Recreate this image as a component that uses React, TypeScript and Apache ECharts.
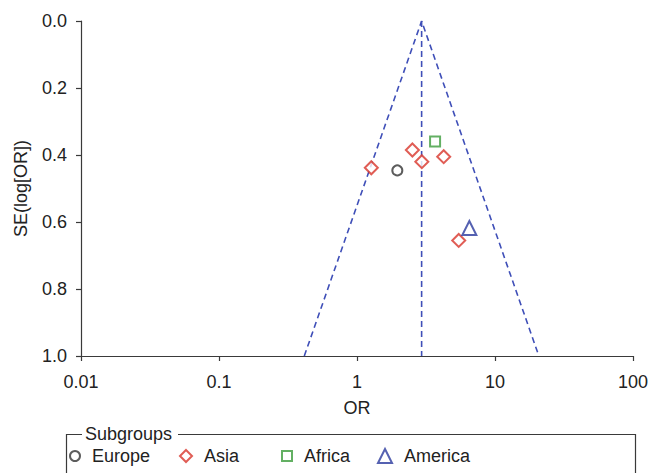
import React, { useEffect, useRef } from "react";
import * as echarts from "echarts";

const groups = ["Europe", "Asia", "Africa", "America"];
const europeOR = [1.96];
const europeSE = [0.446];
const asiaOR = [1.27, 2.52, 2.95, 4.25, 5.46];
const asiaSE = [0.438, 0.385, 0.42, 0.405, 0.655];
const africaOR = [3.68];
const africaSE = [0.36];
const americaOR = [6.52];
const americaSE = [0.618];
const pooledOR = 2.94;
const funnelLowerOR = 0.415; // at SE = 1.0
const funnelUpperOR = 20.8; // at SE = 1.0
const seTop = 0;
const seBottom = 1;
const xTicks = [0.01, 0.1, 1, 10, 100];

const FONT = "'Liberation Sans', Arial, Helvetica, sans-serif";
const AXIS = "#3a3a3a";
const FUNNEL = "#3f4fb8";
const colors = ["#333333", "#d8352a", "#3c9c3c", "#2b3a9e"];
const symbols = ["emptyCircle", "emptyDiamond", "emptyRect", "emptyTriangle"];
const sizes = [10, 13, 10, 14];

const zip = (xs: number[], ys: number[]) => xs.map((x, i) => [x, ys[i]]);

export default function App() {
  const ref = useRef<HTMLDivElement>(null);
  useEffect(() => {
    document.body.style.margin = "0";
    const chart = echarts.init(ref.current!, null, { renderer: "svg" });
    const pts = [
      zip(europeOR, europeSE),
      zip(asiaOR, asiaSE),
      zip(africaOR, africaSE),
      zip(americaOR, americaSE),
    ];
    const legendLefts = [69, 179, 281, 377];
    const legendW = [10, 12, 10, 14];
    chart.setOption({
      animation: false,
      textStyle: { fontFamily: FONT },
      grid: { left: 81, right: 15, top: 21, bottom: 117, containLabel: false },
      xAxis: {
        type: "log",
        logBase: 10,
        min: xTicks[0],
        max: xTicks[xTicks.length - 1],
        name: "OR",
        nameLocation: "middle",
        nameGap: 43,
        nameTextStyle: { fontSize: 18, color: "#222", fontFamily: FONT },
        axisLine: { onZero: false, lineStyle: { color: AXIS, width: 1.2 } },
        axisTick: { show: true, length: 5, lineStyle: { color: AXIS, width: 1.2 } },
        minorTick: { show: false },
        splitLine: { show: false },
        axisLabel: {
          fontSize: 18,
          color: "#222",
          margin: 17,
          fontFamily: FONT,
          formatter: (v: number) => String(Number(v.toPrecision(3))),
        },
      },
      yAxis: {
        type: "value",
        inverse: true,
        min: seTop,
        max: seBottom,
        interval: 0.2,
        name: "SE(log[OR])",
        nameLocation: "middle",
        nameRotate: 90,
        nameGap: 51,
        nameTextStyle: { fontSize: 18, color: "#222", fontFamily: FONT },
        axisLine: { show: true, onZero: false, lineStyle: { color: AXIS, width: 1.2 } },
        axisTick: { show: true, length: 5, lineStyle: { color: AXIS, width: 1.2 } },
        splitLine: { show: false },
        axisLabel: {
          fontSize: 18,
          color: "#222",
          margin: 14,
          fontFamily: FONT,
          formatter: (v: number) => v.toFixed(1),
        },
      },
      legend: groups.map((g, i) => ({
        data: [g],
        left: legendLefts[i],
        top: 447,
        padding: 0,
        itemWidth: legendW[i],
        itemHeight: legendW[i],
        selectedMode: false,
        textStyle: { fontSize: 18, color: "#222", fontFamily: FONT, padding: [0, 0, 0, 7] },
      })),
      graphic: [
        {
          type: "polyline",
          shape: { points: [[82, 434.5], [66.5, 434.5], [66.5, 480]] },
          style: { stroke: AXIS, lineWidth: 1.2, fill: null },
        },
        {
          type: "polyline",
          shape: { points: [[178, 434.5], [635.5, 434.5], [635.5, 480]] },
          style: { stroke: AXIS, lineWidth: 1.2, fill: null },
        },
        {
          type: "text",
          x: 85,
          y: 434,
          style: {
            text: "Subgroups",
            fontSize: 18,
            fill: "#222",
            fontFamily: FONT,
            verticalAlign: "middle",
          },
        },
      ],
      series: [
        {
          type: "line",
          data: [
            [funnelLowerOR, seBottom],
            [pooledOR, seTop],
            [funnelUpperOR, seBottom],
          ],
          symbol: "none",
          silent: true,
          lineStyle: { color: FUNNEL, width: 1.6, type: [6, 4] },
          z: 1,
        },
        {
          type: "line",
          data: [
            [pooledOR, seTop],
            [pooledOR, seBottom],
          ],
          symbol: "none",
          silent: true,
          lineStyle: { color: FUNNEL, width: 1.6, type: [6, 4] },
          z: 1,
        },
        ...groups.map((g, i) => ({
          type: "scatter",
          name: g,
          data: pts[i],
          symbol: symbols[i],
          symbolSize: sizes[i],
          itemStyle: { color: colors[i], borderColor: colors[i], borderWidth: 1.4 },
          z: 3,
        })),
      ],
    });
    return () => chart.dispose();
  }, []);
  return <div ref={ref} style={{ width: 651, height: 473 }} />;
}
